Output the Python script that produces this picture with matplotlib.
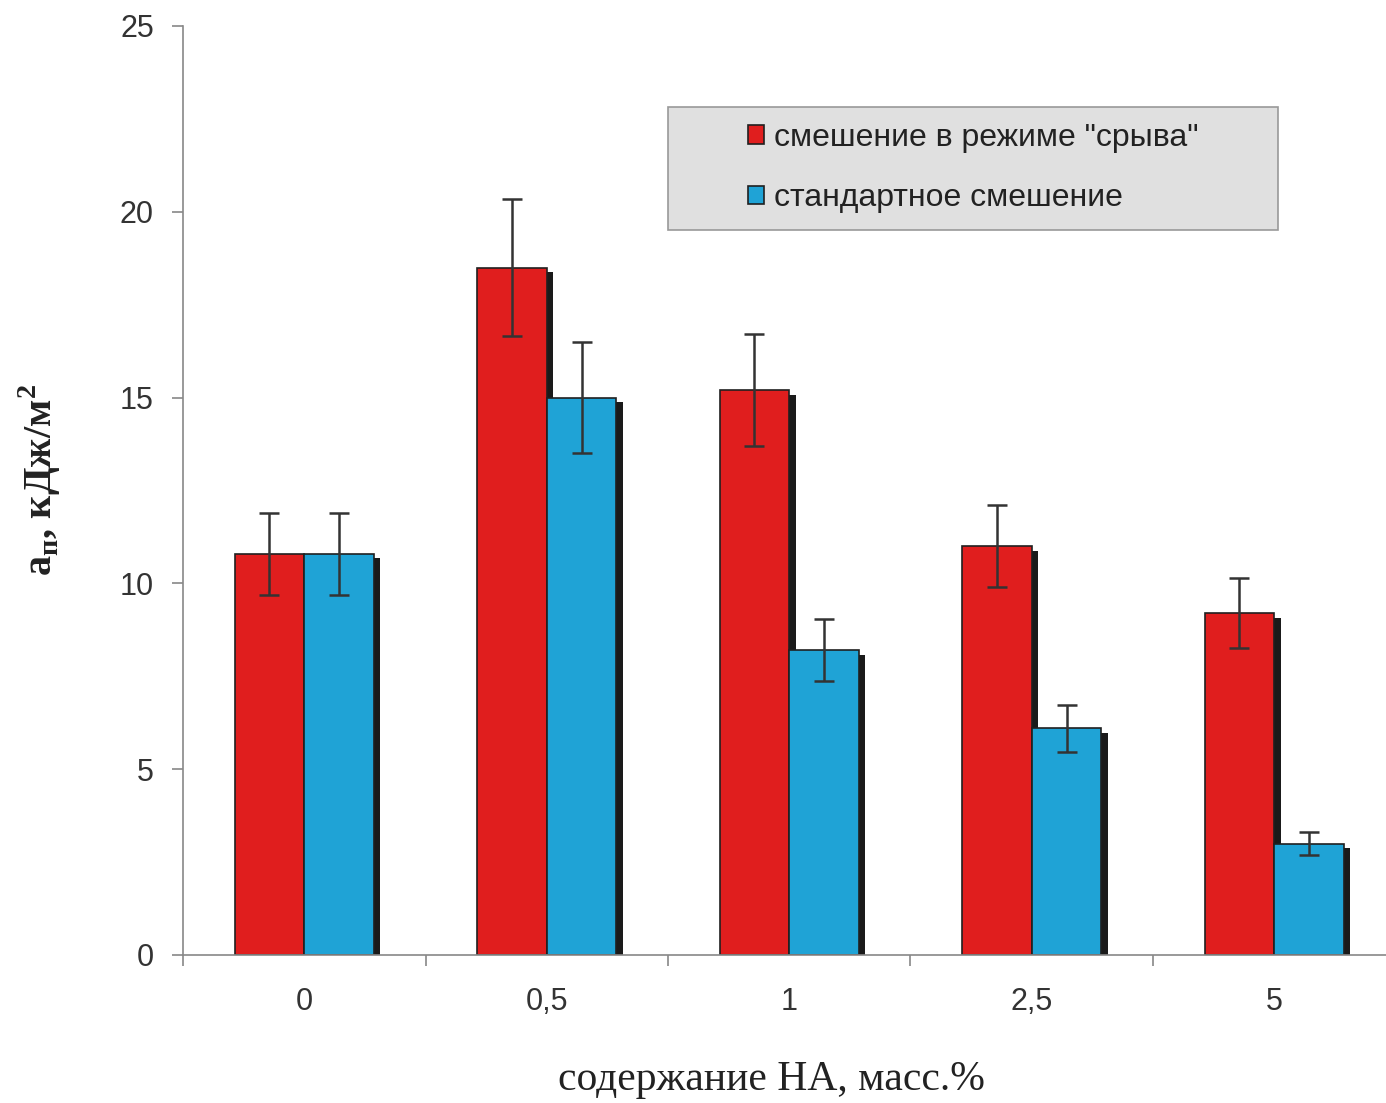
import matplotlib
matplotlib.use("Agg")
import matplotlib.pyplot as plt
import numpy as np
from matplotlib.patches import Rectangle

categories = ["0", "0,5", "1", "2,5", "5"]
red_vals = [10.8, 18.5, 15.2, 11.0, 9.2]
red_err = [1.1, 1.85, 1.5, 1.1, 0.95]
blue_vals = [10.8, 15.0, 8.2, 6.1, 3.0]
blue_err = [1.1, 1.5, 0.83, 0.63, 0.3]
red_label = 'смешение в режиме "срыва"'
blue_label = "стандартное смешение"
yticks = [0, 5, 10, 15, 20, 25]

RED = "#e01e1e"
BLUE = "#1fa3d6"
W, H = 1386, 1103

fig = plt.figure(figsize=(W/100, H/100), dpi=100)
ax = fig.add_axes([183/W, 1-955/H, 1-183/W, (955-26)/H])

x = np.arange(len(categories))
w = 0.287
sdx, sdy = 0.027, 0.12
# shadows
ax.bar(x - w/2 + sdx, np.array(red_vals) - sdy, w, color="#1a1a1a", zorder=1)
ax.bar(x + w/2 + sdx, np.array(blue_vals) - sdy, w, color="#1a1a1a", zorder=1)
ax.bar(x - w/2, red_vals, w, color=RED, edgecolor="#202020", linewidth=1.2, zorder=2, label=red_label)
ax.bar(x + w/2, blue_vals, w, color=BLUE, edgecolor="#202020", linewidth=1.2, zorder=2, label=blue_label)
ax.errorbar(x - w/2, red_vals, yerr=red_err, fmt="none", ecolor="#333333", elinewidth=1.8, capsize=7, capthick=1.8, zorder=3)
ax.errorbar(x + w/2, blue_vals, yerr=blue_err, fmt="none", ecolor="#333333", elinewidth=1.8, capsize=7, capthick=1.8, zorder=3)

ax.set_yticks(yticks)
ax.set_yticklabels([str(t) for t in yticks], fontsize=22, color="#333333", family="Liberation Sans")
ax.set_xticks(x)
ax.set_xticklabels(categories, fontsize=22, color="#333333", family="Liberation Sans")
ax.set_xticks(np.arange(-0.5, 4.0, 1), minor=True)
ax.set_xlim(-0.5, (W-183)/242.5 - 0.5)
ax.set_ylim(0, 25)
ax.tick_params(axis="x", which="major", length=0, pad=23)
ax.tick_params(axis="x", which="minor", length=8, color="#888888", width=1.2)
ax.tick_params(axis="y", length=8, color="#888888", width=1.2, pad=13)
for s in ["top", "right"]:
    ax.spines[s].set_visible(False)
for s in ["left", "bottom"]:
    ax.spines[s].set_color("#888888")
    ax.spines[s].set_linewidth(1.2)

fig.text(771/W, 1-1080/H, "содержание НА, масс.%", fontsize=30, family="Liberation Serif",
         color="#222222", ha="center", va="center")
fig.text(40/W, 1-480/H, r"a$_\mathregular{п}$, кДж/м$^\mathregular{2}$", rotation=90, fontsize=29,
         family="Liberation Serif", fontweight="bold", ha="center", va="center", color="#222222")

# legend box
box = Rectangle((668/W, 1-230/H), (1278-668)/W, (230-107)/H, transform=fig.transFigure,
                facecolor="#e0e0e0", edgecolor="#999999", linewidth=1.2, zorder=5, clip_on=False)
ax.add_patch(box)
leg = ax.legend(loc="center left", bbox_to_anchor=(748/W, 1-168/H), bbox_transform=fig.transFigure,
                fontsize=23, frameon=False, handlelength=0.5, handleheight=0.5,
                handletextpad=0.3, borderpad=0, labelspacing=0.95, borderaxespad=0)
leg.set_zorder(6)
for t in leg.get_texts():
    t.set_family("Liberation Sans")
    t.set_color("#222222")

fig.savefig("out.png", dpi=100)
